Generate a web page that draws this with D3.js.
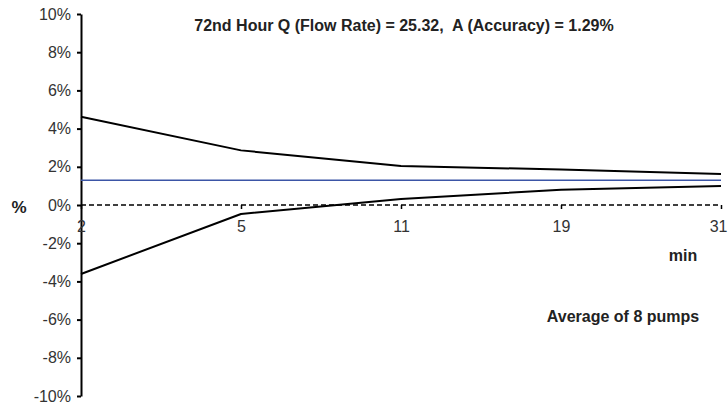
<!DOCTYPE html>
<html><head><meta charset="utf-8">
<script src="https://cdn.jsdelivr.net/npm/d3@7"></script>
<style>body{margin:0;background:#fff}svg{display:block;font-family:Arial,"Liberation Sans",sans-serif}text{white-space:pre}</style>
</head><body><svg id="c" width="728" height="409"></svg>
<script>
const categories = ["2","5","11","19","31"];
const upper = [4.62, 2.86, 2.04, 1.86, 1.62];
const lower = [-3.61, -0.47, 0.31, 0.80, 0.99];
const accuracy = 1.29;
const yTicks = [-10,-8,-6,-4,-2,0,2,4,6,8,10];
const titleText = "72nd Hour Q (Flow Rate) = 25.32,  A (Accuracy) = 1.29%";

const FONT = "Arial, 'Liberation Sans', sans-serif";
const svg = d3.select("#c");
const x = d3.scalePoint().domain(categories).range([81, 721]);
const y = d3.scaleLinear().domain([-10, 10]).range([396, 14]);

// y axis
const yAxis = d3.axisLeft(y).tickValues(yTicks).tickFormat(d => d + "%").tickSize(4).tickSizeOuter(0);
const gy = svg.append("g").attr("transform", "translate(81,0)").call(yAxis)
  .attr("font-size", 16).attr("font-family", FONT);
gy.select(".domain").attr("stroke", "#000").attr("stroke-width", 2);
gy.selectAll(".tick line").attr("stroke", "#000").attr("stroke-width", 2);
gy.selectAll(".tick text").attr("fill", "#333").attr("x", -10);

// x axis at zero (dashed)
const xAxis = d3.axisBottom(x).tickSize(4).tickSizeOuter(0);
const gx = svg.append("g").attr("transform", `translate(0,${y(0)})`).call(xAxis)
  .attr("font-size", 16).attr("font-family", FONT);
gx.select(".domain").remove();
gx.selectAll(".tick line").attr("stroke", "#000").attr("stroke-width", 1.5);
gx.selectAll(".tick text").attr("fill", "#333").attr("y", 16);
gx.selectAll(".tick text").filter(d => d === categories[categories.length-1])
  .attr("text-anchor", "end").attr("x", 6);
svg.append("line").attr("x1", x(categories[0])).attr("x2", x(categories[categories.length-1]))
  .attr("y1", y(0)).attr("y2", y(0)).attr("stroke", "#000").attr("stroke-width", 1.5)
  .attr("stroke-dasharray", "5,3");

// accuracy line
svg.append("line").attr("x1", x(categories[0])).attr("x2", x(categories[categories.length-1]))
  .attr("y1", y(accuracy)).attr("y2", y(accuracy)).attr("stroke", "#3b55a6").attr("stroke-width", 1.5);

const line = d3.line().x((d,i) => x(categories[i])).y(d => y(d));
[upper, lower].forEach(s => {
  svg.append("path").datum(s).attr("d", line).attr("fill", "none").attr("stroke", "#000")
    .attr("stroke-width", 2).attr("stroke-linejoin", "round");
});

// texts
svg.append("text").attr("x", 404).attr("y", 31).attr("text-anchor", "middle")
  .attr("font-size", 16).attr("font-weight", "bold").attr("fill", "#222").text(titleText);
svg.append("text").attr("x", 19).attr("y", 213).attr("text-anchor", "middle")
  .attr("font-size", 17).attr("font-weight", "bold").attr("fill", "#222").text("%");
svg.append("text").attr("x", 683).attr("y", 261).attr("text-anchor", "middle")
  .attr("font-size", 16).attr("font-weight", "bold").attr("fill", "#222").text("min");
svg.append("text").attr("x", 623).attr("y", 322).attr("text-anchor", "middle")
  .attr("font-size", 16).attr("font-weight", "bold").attr("fill", "#222").text("Average of 8 pumps");
</script></body></html>
